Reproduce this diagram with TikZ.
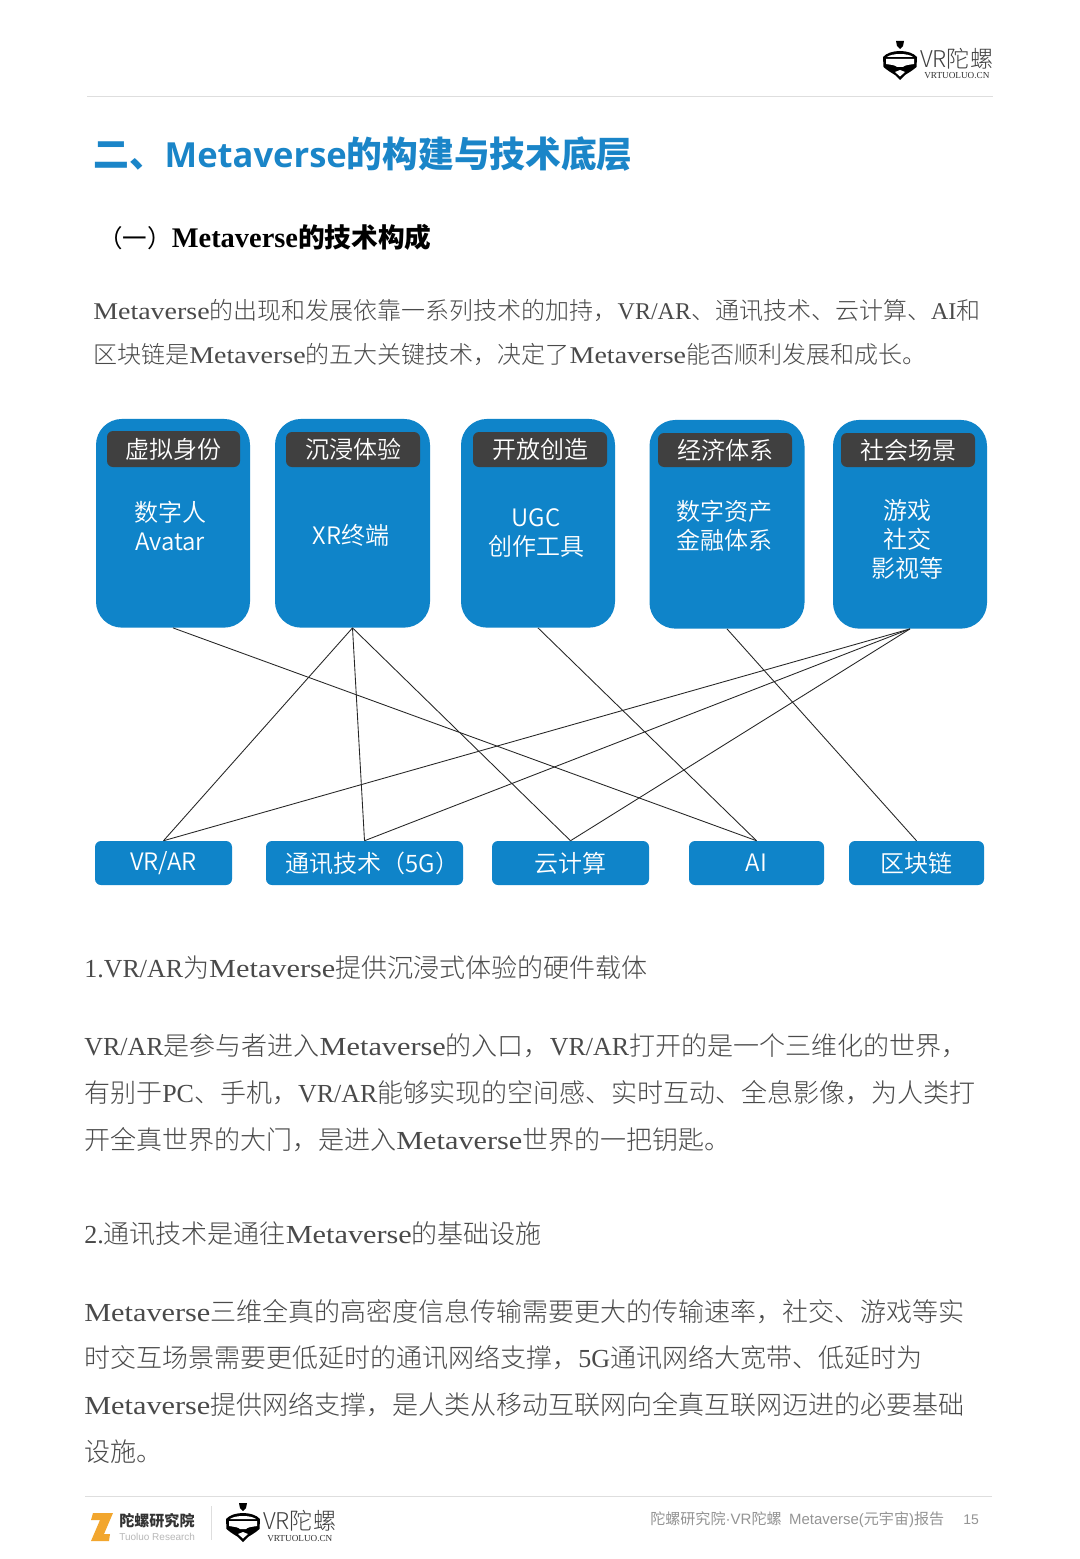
\documentclass[tikz,border=0pt]{standalone}
\usepackage{fontspec}
\usepackage{graphicx}
\setmainfont{Liberation Serif}
\newfontfamily\cjk{Noto Sans CJK SC Light}
\newfontfamily\cjkd{Noto Sans CJK SC DemiLight}
\newfontfamily\cjkb{Noto Sans CJK SC}
\newfontfamily\ser{Liberation Serif}
\newfontfamily\ars{Liberation Sans}
\newfontfamily\opn{Open Sans}
\newcommand{\se}[1]{{\ser #1}}
\newcommand{\mv}{\scalebox{1.165}[1]{\ser Metaverse}}
\newcommand{\as}[1]{{\ars #1}}
\definecolor{bluefill}{HTML}{0F84C9}
\definecolor{titleblue}{HTML}{1A85C8}
\definecolor{headdark}{HTML}{404040}
\definecolor{bodygray}{HTML}{4A4A4A}
\definecolor{rulegray}{HTML}{DEDEDE}
\definecolor{zorange}{HTML}{F2A62E}
\tikzset{
  card/.style={fill=bluefill,draw=none,rounded corners=19.5pt,inner sep=0pt},
  headbar/.style={fill=headdark,draw=none,rounded corners=4.5pt,text=white,font=\cjkd\fontsize{18}{21}\selectfont,inner sep=0pt},
  cardtext/.style={text=white,font=\cjkd\fontsize{18}{21.7}\selectfont,align=center,inner sep=0pt},
  tech/.style={fill=bluefill,draw=none,rounded corners=4.5pt,text=white,font=\cjkd\fontsize{18}{21}\selectfont,inner sep=0pt},
  link/.style={draw=black!85,line width=0.65pt},
  bodyline/.style={anchor=base west,inner sep=0pt,text=bodygray,font=\cjk\fontsize{19.5}{24}\selectfont},
  introline/.style={anchor=base west,inner sep=0pt,text=bodygray,font=\cjk\fontsize{18}{24}\selectfont},
  helmetlogo/.pic={
    \fill[black] (-4,-19) -- (4,-19) -- (3,-14) -- (0,-11) -- (-3,-14) -- cycle;
    \fill[black] (-17,-3) .. controls (-10,-11) and (10,-11) .. (17,-3) -- (16.5,7) .. controls (12,11) and (8,13) .. (5,15) -- (0,20) -- (-5,15) .. controls (-8,13) and (-12,11) .. (-16.5,7) -- cycle;
    \fill[white] (-13,-3) .. controls (-8,-7) and (8,-7) .. (13,-3) -- cycle;
    \fill[white] (-14,-1) -- (14,-1) -- (14,4) .. controls (8,5) and (5,5) .. (3,7) -- (-3,7) .. controls (-5,5) and (-8,5) .. (-14,4) -- cycle;
    \fill[white] (-5,12) -- (0,10) -- (5,12) -- (0,16.5) -- cycle;
  }
}
\begin{document}
\begin{tikzpicture}[x=0.75pt,y=-0.75pt]
\useasboundingbox (0,0) rectangle (1080,1559);
\fill[white] (0,0) rectangle (1080,1559);
% header
\draw[rulegray,line width=0.75pt] (87,97) -- (993,97);
\pic at (900,60) {helmetlogo};
\node[anchor=base west,inner sep=0pt,text=black!75,font=\cjk\fontsize{17.3}{20}\selectfont] (hlogo) at (920,67.5) {VR陀螺};
\node[anchor=base west,inner sep=0pt,text=black!80,font=\ser\fontsize{6.9}{8}\selectfont] (hurl) at (924,79) {VRTUOLUO.CN};
% headings
\node[anchor=base west,inner sep=0pt,text=titleblue,font=\cjkb\bfseries\fontsize{26.8}{32}\selectfont] (title) at (93,168) {二、{\opn\bfseries\fontsize{25.9}{32}\selectfont Metaverse}的构建与技术底层};
\node[anchor=base west,inner sep=0pt,text=black,font=\cjkb\bfseries\fontsize{20}{24}\selectfont] (sub) at (98,247) {{\cjkb\mdseries\fontsize{18.4}{24}\selectfont （一）}{\ser\bfseries\fontsize{21.3}{24}\selectfont Metaverse}的技术构成};
% intro
\node[introline] (p1) at (93,319) {\mv{}的出现和发展依靠一系列技术的加持，\se{VR/AR}、通讯技术、云计算、\se{AI}和};
\node[introline] (p2) at (93,363) {区块链是\mv{}的五大关键技术，决定了\mv{}能否顺利发展和成长。};
% cards
\node[card,minimum width=115.5pt,minimum height=156.5pt] (c1) at (173,523.3) {};
\node[card,minimum width=116.25pt,minimum height=156.5pt] (c2) at (352.5,523.3) {};
\node[card,minimum width=115.5pt,minimum height=156.5pt] (c3) at (538,523.3) {};
\node[card,minimum width=116.25pt,minimum height=156.5pt] (c4) at (727,524.3) {};
\node[card,minimum width=115.5pt,minimum height=156.5pt] (c5) at (910,524.3) {};
\node[headbar,minimum width=99.75pt,minimum height=27pt] (h1) at (173.5,449) {虚拟身份};
\node[headbar,minimum width=100.5pt,minimum height=26.25pt] (h2) at (353,449.5) {沉浸体验};
\node[headbar,minimum width=100.5pt,minimum height=26.25pt] (h3) at (540,449.5) {开放创造};
\node[headbar,minimum width=100.5pt,minimum height=25.5pt] (h4) at (725,450) {经济体系};
\node[headbar,minimum width=100.5pt,minimum height=25.5pt] (h5) at (908,450) {社会场景};
\node[cardtext] (t1) at (170,526) {数字人\\Avatar};
\node[cardtext] (t2) at (351,535) {XR终端};
\node[cardtext] (t3) at (536,533) {UGC\\创作工具};
\node[cardtext] (t4) at (724,526) {数字资产\\金融体系};
\node[cardtext] (t5) at (907,539) {游戏\\社交\\影视等};
% tech nodes
\node[tech,minimum width=102.75pt,minimum height=33pt] (v) at (163.5,863) {VR/AR};
\node[tech,minimum width=147.75pt,minimum height=33pt] (n) at (364.5,863) {\hspace*{12pt}\raisebox{0.7pt}{通讯技术（5G）}};
\node[tech,minimum width=117.75pt,minimum height=33pt] (y) at (570.5,863) {\raisebox{0.7pt}{云计算}};
\node[tech,minimum width=101.25pt,minimum height=33pt] (a) at (756.5,863) {AI};
\node[tech,minimum width=101.25pt,minimum height=33pt] (b) at (916.5,863) {\raisebox{0.7pt}{区块链}};
% links
\draw[link] (c1.south) -- (a.north);
\draw[link] (c2.south) -- (v.north);
\draw[link] (c2.south) -- (n.north);
\draw[link] (c2.south) -- (y.north);
\draw[link] (c3.south) -- (a.north);
\draw[link] (c4.south) -- (b.north);
\draw[link] (c5.south) -- (v.north);
\draw[link] (c5.south) -- (n.north);
\draw[link] (c5.south) -- (y.north);
% sections
\node[bodyline] (s1) at (84,977) {\se{1.VR/AR}为\mv{}提供沉浸式体验的硬件载体};
\node[bodyline] (q1) at (84,1055) {\se{VR/AR}是参与者进入\mv{}的入口，\se{VR/AR}打开的是一个三维化的世界，};
\node[bodyline] (q2) at (84,1102) {有别于\se{PC}、手机，\se{VR/AR}能够实现的空间感、实时互动、全息影像，为人类打};
\node[bodyline] (q3) at (84,1149) {开全真世界的大门，是进入\mv{}世界的一把钥匙。};
\node[bodyline] (s2) at (84,1243) {\se{2.}通讯技术是通往\mv{}的基础设施};
\node[bodyline] (r1) at (84,1321) {\mv{}三维全真的高密度信息传输需要更大的传输速率，社交、游戏等实};
\node[bodyline] (r2) at (84,1367) {时交互场景需要更低延时的通讯网络支撑，\se{5G}通讯网络大宽带、低延时为};
\node[bodyline] (r3) at (84,1414) {\mv{}提供网络支撑，是人类从移动互联网向全真互联网迈进的必要基础};
\node[bodyline] (r4) at (84,1461) {设施。};
% footer
\draw[rulegray,line width=0.75pt] (85,1496) -- (992,1496);
\fill[zorange] (93,1513) -- (113,1513) -- (104,1534) -- (110,1534) -- (109,1541) -- (91,1541) -- (100,1520) -- (91,1520) -- cycle;
\node[anchor=base west,inner sep=0pt,text=black!80,font=\cjkb\bfseries\fontsize{11.3}{14}\selectfont] (zname) at (119,1526) {陀螺研究院};
\node[anchor=base west,inner sep=0pt,text=black!28,font=\ars\fontsize{7.5}{9}\selectfont] (zeng) at (119,1540) {Tuoluo Research};
\draw[rulegray,line width=0.75pt] (211,1506) -- (211,1540);
\pic at (243,1522) {helmetlogo};
\node[anchor=base west,inner sep=0pt,text=black!75,font=\cjk\fontsize{17.3}{20}\selectfont] (flogo) at (263,1529.5) {VR陀螺};
\node[anchor=base west,inner sep=0pt,text=black!80,font=\ser\fontsize{6.9}{8}\selectfont] (furl) at (267,1541) {VRTUOLUO.CN};
\node[anchor=base west,inner sep=0pt,text=black!42,font=\cjkb\fontsize{11.3}{13}\selectfont] (foot) at (650,1524) {陀螺研究院\as{·VR}陀螺\hspace{0.5em}{\ars\fontsize{11.2}{13}\selectfont Metaverse(}元宇宙\as{)}报告};
\node[anchor=base west,inner sep=0pt,text=black!42,font=\ars\fontsize{10.5}{13}\selectfont] (pg) at (963,1524) {15};
\end{tikzpicture}
\end{document}
